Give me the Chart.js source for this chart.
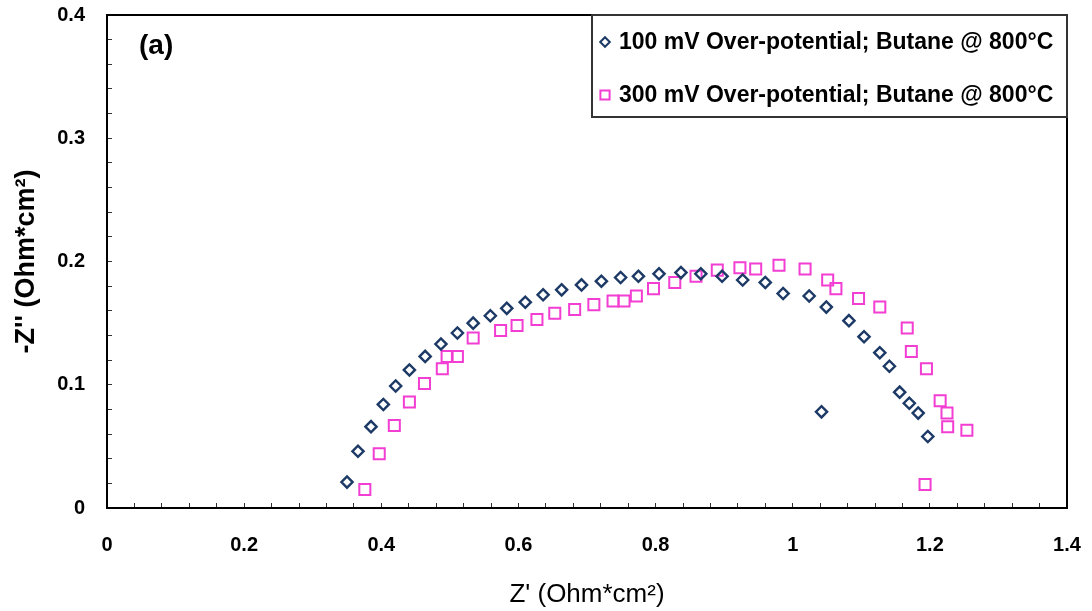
<!DOCTYPE html>
<html>
<head>
<meta charset="utf-8">
<script src="https://cdn.jsdelivr.net/npm/chart.js@4/dist/chart.umd.min.js"></script>
<style>
  html, body { margin: 0; padding: 0; background: #ffffff; }
  #wrap { width: 1092px; height: 611px; }
</style>
</head>
<body>
<div id="wrap"><canvas id="myChart" width="1092" height="611"></canvas></div>
<script>
// 100 mV over-potential (diamonds): Z' and -Z''
var zRe100 = [0.350, 0.366, 0.385, 0.403, 0.421, 0.441, 0.464, 0.487, 0.511, 0.534,
              0.559, 0.583, 0.610, 0.636, 0.663, 0.692, 0.721, 0.749, 0.775, 0.805,
              0.837, 0.866, 0.897, 0.927, 0.960, 0.986, 1.024, 1.049, 1.082, 1.104,
              1.127, 1.141, 1.156, 1.170, 1.183, 1.197, 1.042];
var zIm100 = [0.021, 0.046, 0.066, 0.084, 0.099, 0.112, 0.123, 0.133, 0.142, 0.150,
              0.156, 0.162, 0.167, 0.173, 0.177, 0.181, 0.184, 0.187, 0.188, 0.190,
              0.191, 0.190, 0.188, 0.185, 0.183, 0.174, 0.172, 0.163, 0.152, 0.139,
              0.126, 0.115, 0.094, 0.085, 0.077, 0.058, 0.078];

// 300 mV over-potential (squares)
var zRe300 = [0.376, 0.397, 0.419, 0.441, 0.463, 0.489, 0.496, 0.511, 0.534, 0.574,
              0.598, 0.627, 0.653, 0.682, 0.710, 0.738, 0.754, 0.772, 0.797, 0.828,
              0.859, 0.890, 0.923, 0.946, 0.980, 1.018, 1.051, 1.063, 1.096, 1.127,
              1.167, 1.173, 1.195, 1.215, 1.225, 1.226, 1.254, 1.193];
var zIm300 = [0.015, 0.044, 0.067, 0.086, 0.101, 0.113, 0.123, 0.123, 0.138, 0.144,
              0.148, 0.153, 0.158, 0.161, 0.165, 0.168, 0.168, 0.172, 0.178, 0.183,
              0.188, 0.193, 0.195, 0.194, 0.197, 0.194, 0.185, 0.178, 0.170, 0.163,
              0.146, 0.127, 0.113, 0.087, 0.077, 0.066, 0.063, 0.019];

var seriesLabels = ["100 mV Over-potential; Butane @ 800\u00B0C",
                    "300 mV Over-potential; Butane @ 800\u00B0C"];

// labelled ticks, minor ticks in between
var xTickLabels = [0, 0.2, 0.4, 0.6, 0.8, 1, 1.2, 1.4];
var yTickLabels = [0, 0.1, 0.2, 0.3, 0.4];

var blue = "#1d3a66";
var pink = "#f23ed2";

function toPoints(xs, ys) {
    var pts = [];
    for (var i = 0; i < xs.length; i++) {
        pts.push({x: xs[i], y: ys[i]});
    }
    return pts;
}

function majorLabel(list) {
    return function(value) {
        for (var i = 0; i < list.length; i++) {
            if (Math.abs(value - list[i]) < 1e-6) return String(list[i]);
        }
        return "";
    };
}

// fixed axis box sizes; drop the extra padding chart.js adds for end labels
function fixSize(w, h) {
    return function(scale) {
        if (w) scale.width = w;
        if (h) scale.height = h;
        scale.paddingTop = 0;
        scale.paddingBottom = 0;
        scale.paddingLeft = 0;
        scale.paddingRight = 0;
    };
}

// frame on top and right, the "(a)" tag and the boxed legend
var decor = {
    id: "decor",
    afterDraw: function(chart) {
        var c = chart.ctx;
        var a = chart.chartArea;
        c.save();
        c.strokeStyle = "#000";
        c.lineWidth = 2;
        c.strokeRect(a.left, a.top, a.right - a.left, a.bottom - a.top);

        c.fillStyle = "#000";
        c.font = "bold 28px 'Liberation Sans', Arial, sans-serif";
        c.textBaseline = "middle";
        c.textAlign = "left";
        c.fillText("(a)", 139, 46);

        // legend box
        var bx = 592, by = a.top, bw = a.right - 592, bh = 117 - a.top;
        c.fillStyle = "#fff";
        c.fillRect(bx, by, bw, bh);
        c.strokeStyle = "#333";
        c.lineWidth = 2;
        c.strokeRect(bx, by, bw, bh);

        var rows = [42, 95];
        chart.data.datasets.forEach(function(ds, i) {
            c.lineWidth = 2;
            c.strokeStyle = ds.borderColor;
            c.fillStyle = "rgba(0,0,0,0)";
            Chart.helpers.drawPoint(c, {
                pointStyle: ds.pointStyle,
                radius: ds.pointStyle === "rect" ? 6.5 : 4.8,
                rotation: 0,
                borderWidth: 2
            }, 605, rows[i]);
            c.fillStyle = "#000";
            c.font = "bold 23px 'Liberation Sans', Arial, sans-serif";
            c.fillText(ds.label, 619, rows[i] + 1);
        });
        c.restore();
    }
};

var ctx = document.getElementById("myChart");

new Chart(ctx, {
    type: "scatter",
    data: {
        datasets: [
            {
                label: seriesLabels[0],
                data: toPoints(zRe100, zIm100),
                pointStyle: "rectRot",
                pointRadius: 5.6,
                borderWidth: 2.4,
                borderColor: blue,
                backgroundColor: "rgba(0,0,0,0)"
            },
            {
                label: seriesLabels[1],
                data: toPoints(zRe300, zIm300),
                pointStyle: "rect",
                pointRadius: 7.8,
                borderWidth: 2,
                borderColor: pink,
                backgroundColor: "rgba(0,0,0,0)"
            }
        ]
    },
    options: {
        responsive: false,
        animation: false,
        events: [],
        layout: { padding: { top: 15, right: 25, left: 0, bottom: 0 } },
        plugins: {
            legend: { display: false },
            tooltip: { enabled: false }
        },
        scales: {
            x: {
                type: "linear",
                min: 0,
                max: 1.4,
                afterFit: fixSize(0, 103),
                border: { display: true, color: "#000", width: 2 },
                grid: { drawOnChartArea: false, drawTicks: true, tickLength: -5, color: "#333", lineWidth: 1 },
                ticks: {
                    stepSize: 0.04,
                    autoSkip: false,
                    maxRotation: 0,
                    padding: 30,
                    color: "#000",
                    font: { size: 20, weight: "bold" },
                    callback: majorLabel(xTickLabels)
                },
                title: {
                    display: true,
                    text: "Z' (Ohm*cm\u00B2)",
                    color: "#000",
                    font: { size: 26 },
                    padding: { top: 0, bottom: 1 }
                }
            },
            y: {
                type: "linear",
                min: 0,
                max: 0.4,
                afterFit: fixSize(107, 0),
                border: { display: true, color: "#000", width: 2 },
                grid: { drawOnChartArea: false, drawTicks: true, tickLength: -5, color: "#333", lineWidth: 1 },
                ticks: {
                    stepSize: 0.02,
                    autoSkip: false,
                    padding: 27,
                    color: "#000",
                    font: { size: 20, weight: "bold" },
                    callback: majorLabel(yTickLabels)
                },
                title: {
                    display: true,
                    text: "-Z'' (Ohm*cm\u00B2)",
                    color: "#000",
                    font: { size: 27, weight: "bold" },
                    padding: { top: 10, bottom: 0 }
                }
            }
        }
    },
    plugins: [decor]
});
</script>
</body>
</html>
